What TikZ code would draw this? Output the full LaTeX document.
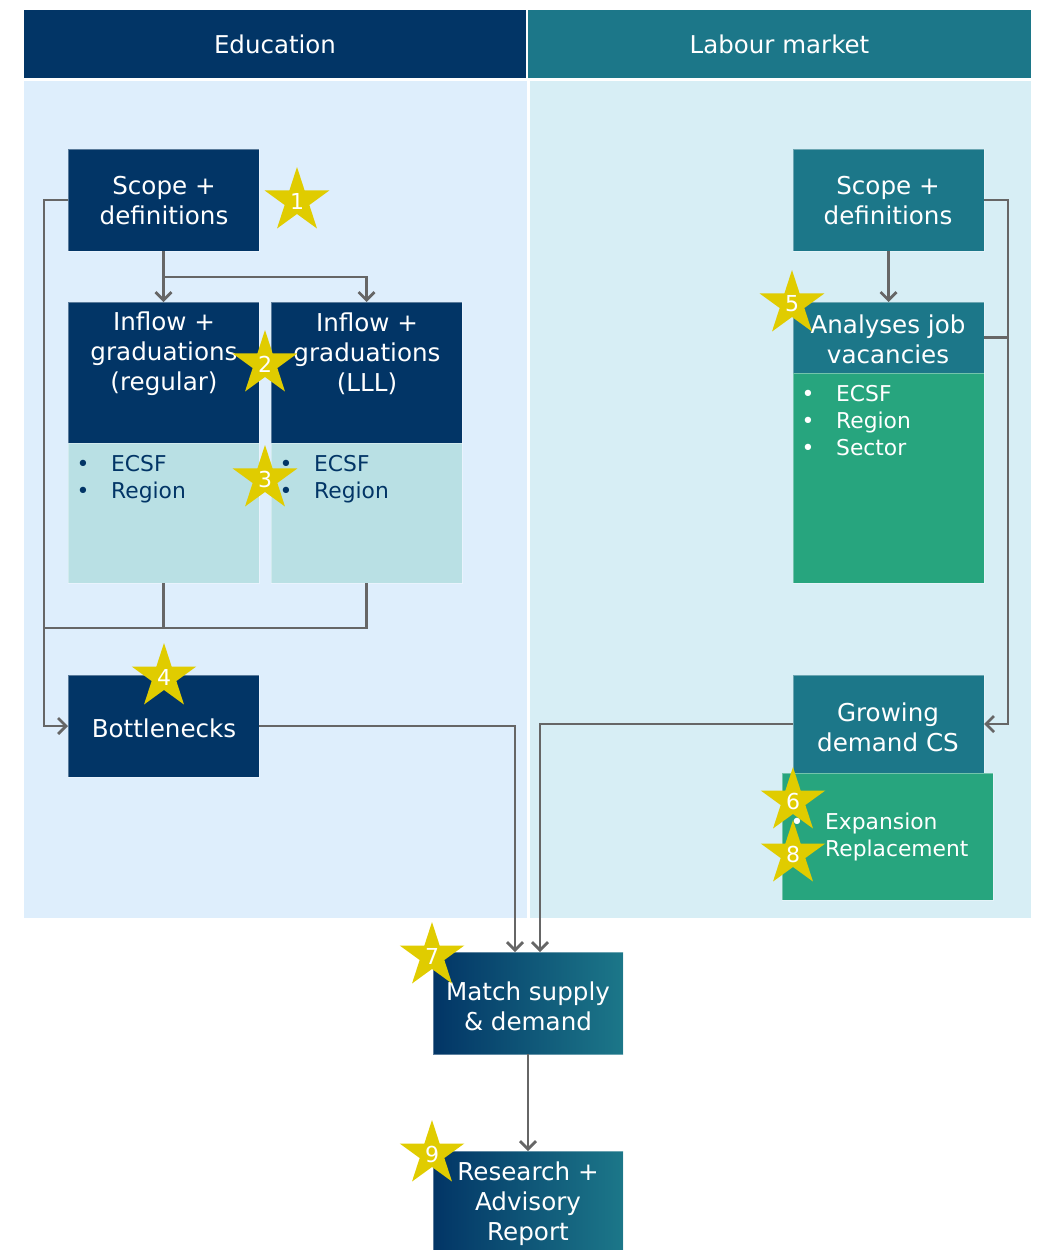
\documentclass[tikz,border=0pt]{standalone}
\usepackage{fontspec}
\setmainfont{DejaVu Sans}
\usetikzlibrary{shapes.geometric,arrows.meta}
\definecolor{navy}{RGB}{2,53,102}
\definecolor{teal}{RGB}{28,119,137}
\definecolor{green}{RGB}{39,165,126}
\definecolor{lightbox}{RGB}{185,224,228}
\definecolor{panE}{RGB}{222,238,252}
\definecolor{panL}{RGB}{215,238,245}
\definecolor{starY}{RGB}{224,204,0}
\definecolor{conn}{RGB}{102,102,102}
\begin{document}
\begin{tikzpicture}[x=1pt,y=-1pt,
  box/.style={rectangle, inner sep=0pt, outer sep=0pt, draw=white, draw opacity=0.35, line width=0.6pt},
  wt/.style={text=white, align=center, inner sep=0pt, font=\fontsize{24.6}{30}\selectfont},
  ht/.style={text=white, align=center, inner sep=0pt, font=\fontsize{24.5}{30}\selectfont},
  blist/.style={align=left, inner sep=0pt, anchor=north west, font=\fontsize{21.8}{27}\selectfont},
  line/.style={draw=conn, line width=2.8pt},
  arr/.style={line, -{Straight Barb[length=8pt,width=16pt]}},
  mstar/.style={star, star points=5, star point ratio=2.618, minimum size=68pt, inner sep=0pt, fill=starY, text=white, font=\fontsize{22}{22}\selectfont}]
\useasboundingbox (0,0) rectangle (1038,1250);
% headers and panels
\node[box, draw=none, fill=navy, minimum width=502pt, minimum height=68pt] (hdrE) at (275,44) {};
\node[box, draw=none, fill=teal, minimum width=503pt, minimum height=68pt] (hdrL) at (779.5,44) {};
\node[ht] (thdrE) at (hdrE.center) {Education};
\node[ht] (thdrL) at (hdrL.center) {Labour market};
\node[box, draw=none, fill=panE, minimum width=503pt, minimum height=837pt] (panE) at (275.5,499.5) {};
\node[box, draw=none, fill=panL, minimum width=501pt, minimum height=837pt] (panL) at (780.5,499.5) {};
% education boxes
\node[box, fill=navy, minimum width=191pt, minimum height=102pt] (scopeL) at (163.5,200) {};
\node[box, fill=navy, minimum width=191pt, minimum height=141pt] (inregT) at (163.5,372.5) {};
\node[box, fill=lightbox, minimum width=191pt, minimum height=140pt] (inregB) at (163.5,513) {};
\node[box, fill=navy, minimum width=191pt, minimum height=141pt] (inlllT) at (366.5,372.5) {};
\node[box, fill=lightbox, minimum width=191pt, minimum height=140pt] (inlllB) at (366.5,513) {};
\node[box, fill=navy, minimum width=191pt, minimum height=102pt] (bott) at (163.5,726) {};
% labour market boxes
\node[box, fill=teal, minimum width=191pt, minimum height=102pt] (scopeR) at (888.5,200) {};
\node[box, fill=teal, minimum width=191pt, minimum height=71pt] (anaT) at (888.5,337.5) {};
\node[box, fill=green, minimum width=191pt, minimum height=210pt] (anaB) at (888.5,478) {};
\node[box, fill=teal, minimum width=191pt, minimum height=98pt] (growT) at (888.5,724) {};
\node[box, fill=green, minimum width=211pt, minimum height=127pt] (growB) at (887.5,836.5) {};
% bottom boxes
\node[box, left color=navy, right color=teal, minimum width=190pt, minimum height=102pt] (match) at (528,1003) {};
\node[box, left color=navy, right color=teal, minimum width=190pt, minimum height=105pt] (research) at (528,1203.5) {};
% connectors
\coordinate (joinL) at (44,628);
\draw[arr] (scopeL.south) -- (inregT.north);
\draw[arr] (scopeL.south) -- ++(0,26) -| (inlllT.north);
\draw[arr] (scopeL.west) -- ++(-24,0) |- (bott.west);
\draw[line] (inregB.south) |- (joinL);
\draw[line] (inlllB.south) |- (joinL);
\draw[arr] (bott.east) -| ([xshift=-13pt]match.north);
\draw[arr] (growT.west) -| ([xshift=12pt]match.north);
\draw[arr] (match.south) -- (research.north);
\draw[arr] (scopeR.south) -- (anaT.north);
\draw[arr] (scopeR.east) -- ++(24,0) |- (growT.east);
\draw[line] (anaT.east) -- ++(24,0);
% texts
\node[wt] (tScopeL) at (164,201) {Scope +\\definitions};
\node[wt] (tInreg) at (164,354) {Inflow +\\graduations\\(regular)};
\node[wt] (tInlll) at (367,354) {Inflow +\\graduations\\(LLL)};
\node[wt] (tBott) at (164,728) {Bottlenecks};
\node[wt] (tScopeR) at (888,201) {Scope +\\definitions};
\node[wt] (tAna) at (888,339) {Analyses job\\vacancies};
\node[wt] (tGrow) at (888,727) {Growing\\demand CS};
\node[wt] (tMatch) at (528,1006) {Match supply\\\& demand};
\node[wt] (tResearch) at (528,1204) {Research +\\Advisory\\Report};
\node[blist, text=navy] (bInreg) at (76.5,455) {\makebox[34.5pt][l]{\textbullet}ECSF\\\makebox[34.5pt][l]{\textbullet}Region};
\node[blist, text=navy] (bInlll) at (279.5,455) {\makebox[34.5pt][l]{\textbullet}ECSF\\\makebox[34.5pt][l]{\textbullet}Region};
\node[blist, text=white] (bAna) at (801.5,385) {\makebox[34.5pt][l]{\textbullet}ECSF\\\makebox[34.5pt][l]{\textbullet}Region\\\makebox[34.5pt][l]{\textbullet}Sector};
\node[blist, text=white] (bGrow) at (790.5,813) {\makebox[34.5pt][l]{\textbullet}Expansion\\\makebox[34.5pt][l]{\textbullet}Replacement};
% stars
\node[mstar] (s1) at (297,201) {1};
\node[mstar] (s2) at (265,364) {2};
\node[mstar] (s3) at (265,479) {3};
\node[mstar] (s4) at (164,677) {4};
\node[mstar] (s5) at (792,304) {5};
\node[mstar] (s6) at (793,801) {6};
\node[mstar] (s8) at (793,854) {8};
\node[mstar] (s7) at (432,956) {7};
\node[mstar] (s9) at (432,1154) {9};
\end{tikzpicture}
\end{document}
